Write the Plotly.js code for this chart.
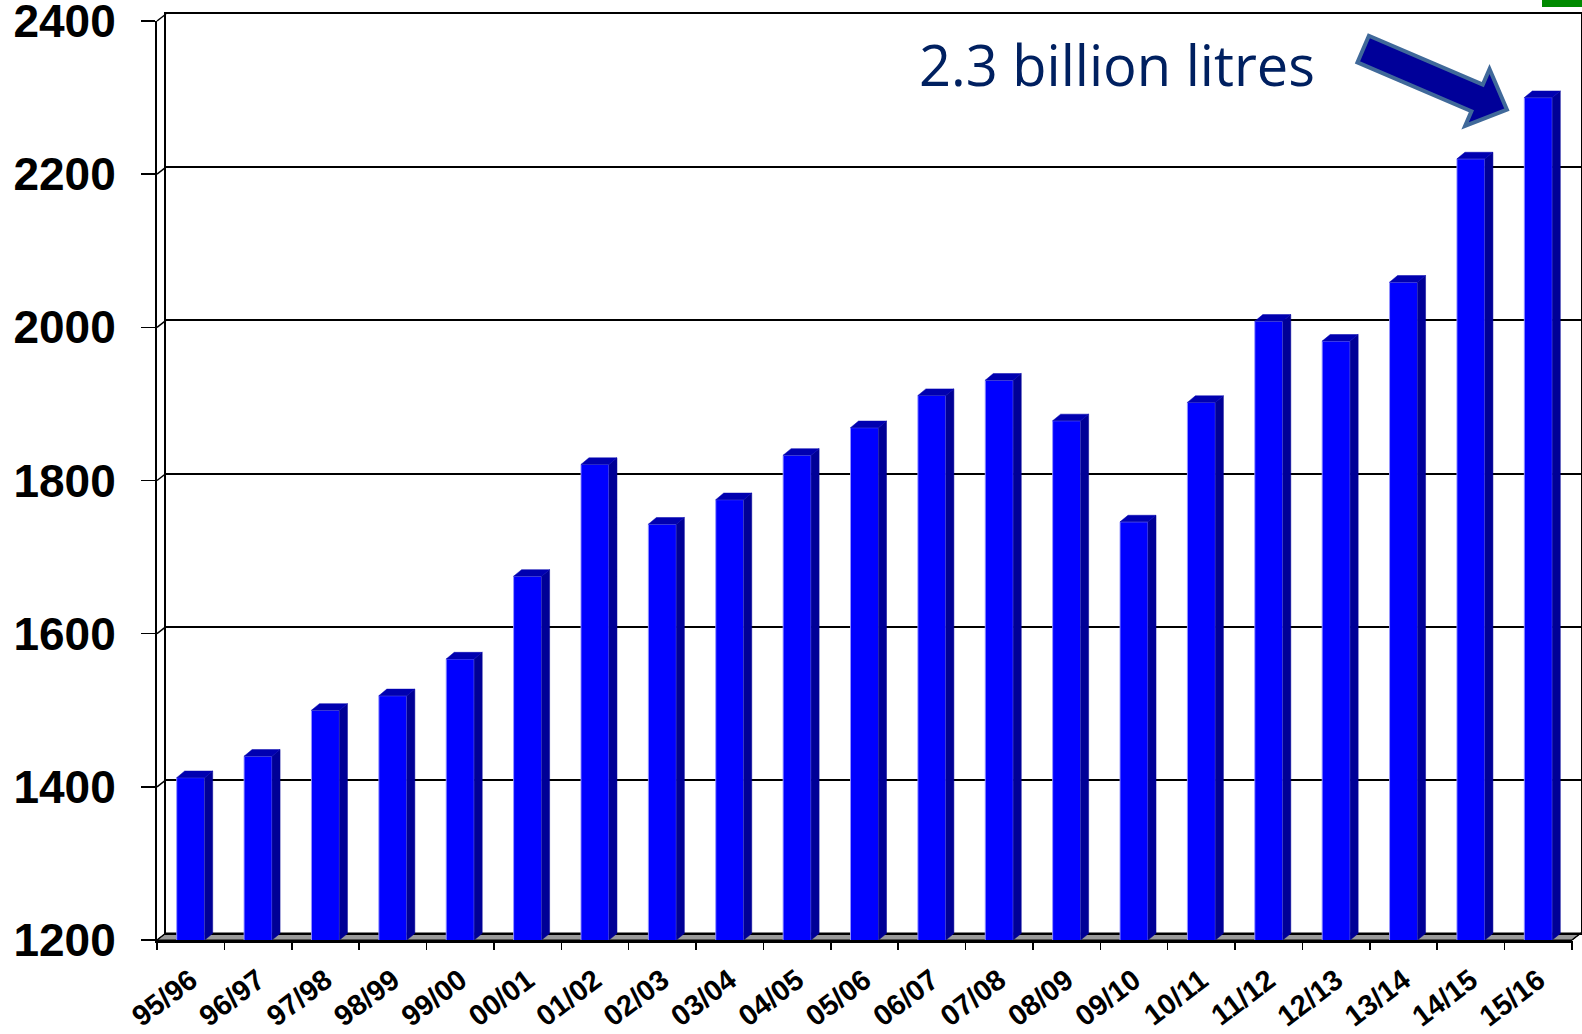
<!DOCTYPE html>
<html>
<head>
<meta charset="utf-8">
<script src="https://cdn.plot.ly/plotly-3.0.1.min.js"></script>
<style>
html,body{margin:0;padding:0;background:#ffffff;}
#chart{width:1582px;height:1034px;}
</style>
</head>
<body>
<div id="chart"></div>
<script>
// ---------- data ----------
const categories = ['95/96','96/97','97/98','98/99','99/00','00/01','01/02','02/03','03/04','04/05',
                    '05/06','06/07','07/08','08/09','09/10','10/11','11/12','12/13','13/14','14/15','15/16'];
const consumption = [1412,1440,1500,1519,1567,1675,1821,1743,1775,1833,
                     1869,1911,1931,1878,1746,1902,2008,1982,2059,2220,2300];
const yTickValues = [1200,1400,1600,1800,2000,2200,2400];
const yRange = [1200,2400];
const calloutText = '2.3 billion litres';

// ---------- geometry (pixels / styling) ----------
const W = 1582, H = 1034;
const M = {l:157, r:1, t:14, b:94};
const PW = W - M.l - M.r, PH = H - M.t - M.b;
const WALL_DX = 9, WALL_DY = 7;             // depth of the 3-D box
const frontX = [0, (PW - WALL_DX) / PW];
const backX  = [WALL_DX / PW, 1];
const frontY = [0, (PH - WALL_DY) / PH];
const backY  = [WALL_DY / PH, 1];
const nCat = categories.length;
const xRange = [-0.5, nCat - 0.5];
const catPx = (PW - WALL_DX) / nCat;
const unitPx = (PH - WALL_DY) / (yRange[1] - yRange[0]);
const BAR_W = 28 / catPx;
const BAR_DX = 8 / catPx, BAR_DY = 6.6 / unitPx;

const xIdx = categories.map((c, i) => i);

// side and top faces of the pseudo-3D columns, built from the data
const sideX = [], sideY = [], topX = [], topY = [];
consumption.forEach((v, i) => {
  const r = i + BAR_W / 2, l = i - BAR_W / 2;
  sideX.push(r, r + BAR_DX, r + BAR_DX, r, r, null);
  sideY.push(yRange[0], yRange[0] + BAR_DY, v + BAR_DY, v, yRange[0], null);
  topX.push(l, l + BAR_DX, r + BAR_DX, r, l, null);
  topY.push(v, v + BAR_DY, v + BAR_DY, v, v, null);
});

const traces = [
  {type:'scatter', x:[], y:[], xaxis:'x', yaxis:'y', hoverinfo:'skip', showlegend:false},
  {type:'bar', x:xIdx, y:consumption, xaxis:'x2', yaxis:'y2', width:BAR_W,
   marker:{color:'#0000FF', line:{color:'rgba(150,150,255,0.9)', width:1}},
   hoverinfo:'skip', showlegend:false},
  {type:'scatter', mode:'lines', x:sideX, y:sideY, xaxis:'x3', yaxis:'y2', fill:'toself',
   fillcolor:'#000096', line:{color:'#000096', width:0.5}, hoverinfo:'skip', showlegend:false},
  {type:'scatter', mode:'lines', x:topX, y:topY, xaxis:'x3', yaxis:'y2', fill:'toself',
   fillcolor:'#0000B0', line:{color:'#0000B0', width:0.5}, hoverinfo:'skip', showlegend:false}
];

// paper helpers for the box decoration
const fy = v => frontY[0] + (v - yRange[0]) / (yRange[1] - yRange[0]) * (frontY[1] - frontY[0]);
const by = v => backY[0] + (v - yRange[0]) / (yRange[1] - yRange[0]) * (backY[1] - backY[0]);

const shapes = [];
// floor
shapes.push({type:'path', xref:'paper', yref:'paper', layer:'below',
  path:`M 0,0 L ${frontX[1]},0 L 1,${backY[0]} L ${backX[0]},${backY[0]} Z`,
  fillcolor:'#9A9A9A', line:{color:'#000000', width:1}});
// left wall diagonals
yTickValues.forEach(v => {
  shapes.push({type:'line', xref:'paper', yref:'paper', layer:'above',
    x0:0, y0:fy(v), x1:backX[0], y1:by(v), line:{color:'#000000', width:1.5}});
});
// right floor corner
shapes.push({type:'line', xref:'paper', yref:'paper', x0:frontX[1], y0:0, x1:1, y1:backY[0],
  line:{color:'#000000', width:1.5}});

// block arrow pointing at the last column
const ang = 23.2 * Math.PI / 180;
const ux = Math.cos(ang), uy = Math.sin(ang), nx = -Math.sin(ang), ny = Math.cos(ang);
const arrowPts = [[2,-14.5],[126,-14.5],[126,-31.5],[158,-1],[126,30.5],[126,14.5],[2,14.5]];
const arrowPath = arrowPts.map((p, k) => {
  const sx = p[0] * ux + p[1] * nx, sy = p[0] * uy + p[1] * ny;
  return (k ? 'L ' : 'M ') + sx.toFixed(2) + ',' + (-sy).toFixed(2);
}).join(' ') + ' Z';
const tail = [1361.3, 48.3];
shapes.push({type:'path', xref:'paper', yref:'paper', xsizemode:'pixel', ysizemode:'pixel',
  xanchor:(tail[0] - M.l) / PW, yanchor:(H - M.b - tail[1]) / PH, path:arrowPath,
  fillcolor:'#000099', line:{color:'#40699A', width:4}});
// green corner mark
shapes.push({type:'rect', xref:'paper', yref:'paper',
  x0:(1542 - M.l) / PW, x1:(1583 - M.l) / PW, y0:(H - M.b - 7) / PH, y1:(H - M.b + 2) / PH,
  fillcolor:'#008A00', line:{width:0}});

const boldFont = {family:'"Liberation Sans", Arial, sans-serif', color:'#000000', weight:'bold'};

const layout = {
  width:W, height:H,
  margin:{l:M.l, r:M.r, t:M.t, b:M.b, pad:0},
  paper_bgcolor:'#ffffff', plot_bgcolor:'rgba(0,0,0,0)',
  showlegend:false, hovermode:false, bargap:0,
  xaxis:{domain:backX, anchor:'y', range:xRange, showgrid:false, zeroline:false,
         showline:true, mirror:true, linecolor:'#000000', linewidth:2,
         ticks:'', showticklabels:false, fixedrange:true},
  yaxis:{domain:backY, anchor:'x', range:yRange, tickmode:'array', tickvals:yTickValues,
         showgrid:true, gridcolor:'#000000', gridwidth:2, zeroline:false,
         showline:true, mirror:true, linecolor:'#000000', linewidth:2,
         ticks:'', showticklabels:false, fixedrange:true},
  xaxis2:{domain:frontX, anchor:'y2', range:xRange, tickmode:'array', tickvals:xIdx,
          ticktext:categories, ticks:'', tickangle:-37, ticklabelstandoff:9,
          ticklabeloverflow:'allow',
          tickfont:Object.assign({size:29}, boldFont),
          showgrid:false, zeroline:false, showline:true, linecolor:'#000000', linewidth:3,
          fixedrange:true},
  xaxis3:{overlaying:'x2', anchor:'y2', range:xRange, tickmode:'array',
          tickvals:categories.concat(['']).map((c, i) => i - 0.5),
          ticks:'outside', ticklen:9, tickwidth:1.5, tickcolor:'#000000',
          showticklabels:false, showgrid:false, zeroline:false, showline:false, fixedrange:true},
  yaxis2:{domain:frontY, anchor:'x2', range:yRange, tickmode:'array', tickvals:yTickValues,
          ticks:'outside', ticklen:14, tickwidth:1.5, tickcolor:'#000000',
          ticklabelstandoff:16, ticklabeloverflow:'allow',
          tickfont:Object.assign({size:46}, boldFont),
          showgrid:false, zeroline:false, showline:true, linecolor:'#000000', linewidth:2,
          fixedrange:true},
  shapes:shapes,
  annotations:[{
    text:calloutText, xref:'paper', yref:'paper',
    x:(1117 - M.l) / PW, y:(H - M.b - 63.7) / PH, xanchor:'center', yanchor:'middle',
    showarrow:false, font:{family:'"Open Sans", "Noto Sans", sans-serif', size:56, color:'#002060'}
  }]
};

Plotly.newPlot('chart', traces, layout, {displayModeBar:false, staticPlot:true});
</script>
</body>
</html>
